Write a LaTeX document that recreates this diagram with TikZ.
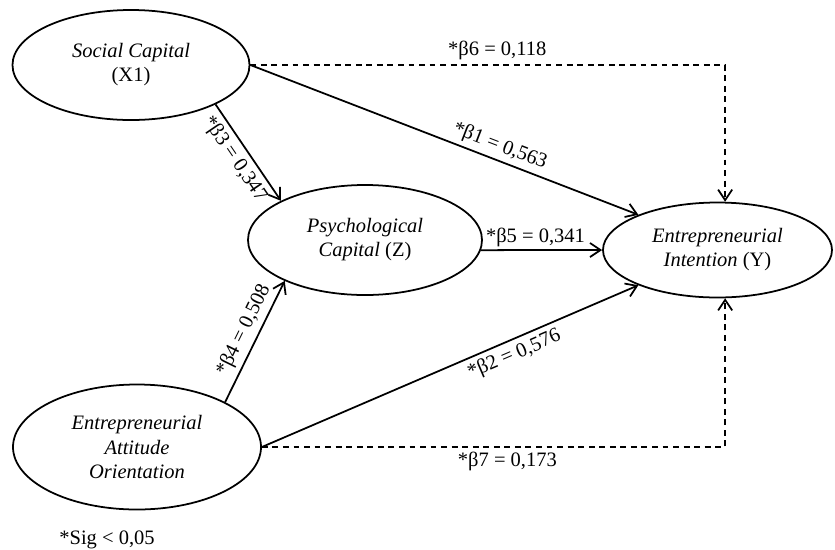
\documentclass[tikz,border=0pt]{standalone}
\usepackage{fontspec}
\setmainfont{Liberation Serif}
\usetikzlibrary{shapes.geometric, arrows.meta}

\begin{document}
\begin{tikzpicture}[x=0.03cm, y=-0.03cm, line width=1.5pt,
        font=\fontsize{17.5}{20.5}\selectfont,
        var/.style 2 args={draw, ellipse, inner sep=0pt, align=center,
                    minimum width=#1, minimum height=#2},
        rel/.style={-{Straight Barb[length=9pt, width=12pt]}},
        dsh/.style={rel, dash pattern=on 5pt off 4pt}
    ]
        \useasboundingbox (0,0) rectangle (835,549);
        \node[var={7.11cm}{3.3cm}]  (sc)  at (131,65)    {\textit{Social Capital}\\(X1)};
        \node[var={7.02cm}{3.3cm}]  (z)   at (365,240)   {\textit{Psychological}\\\textit{Capital} (Z)};
        \node[var={6.87cm}{2.85cm}] (y)   at (717.5,250) {\textit{Entrepreneurial}\\\textit{Intention} (Y)};
        \node[var={7.44cm}{3.75cm}] (eao) at (137,447)   {\textit{Entrepreneurial}\\\textit{Attitude}\\\textit{Orientation}};
        \draw[rel] (sc.east) -- node[sloped, above, pos=0.63] {*β1 = 0,563} (y.156);
        \draw[dsh] (sc.east) -| node[above, pos=0.26] {*β6 = 0,118} (y.81);
        \draw[rel] (sc.-25) -- node[sloped, below, pos=0.48, inner sep=4pt] {*β3 = 0,347} (z.155);
        \draw[rel] (eao.27) -- node[sloped, above, pos=0.54, inner sep=4pt] {*β4 = 0,508} (z.207);
        \draw[rel] (z.-5) -- node[above, pos=0.45, inner sep=2pt] {*β5 = 0,341} (y.west);
        \draw[rel] (eao.east) -- node[sloped, below, pos=0.655, inner sep=4pt] {*β2 = 0,576} (y.204);
        \draw[dsh] (eao.east) -| node[below, pos=0.265] {*β7 = 0,173} (y.-81);
        \node (sig) at (107,540) {*Sig < 0,05};
    \end{tikzpicture}
\end{document}
